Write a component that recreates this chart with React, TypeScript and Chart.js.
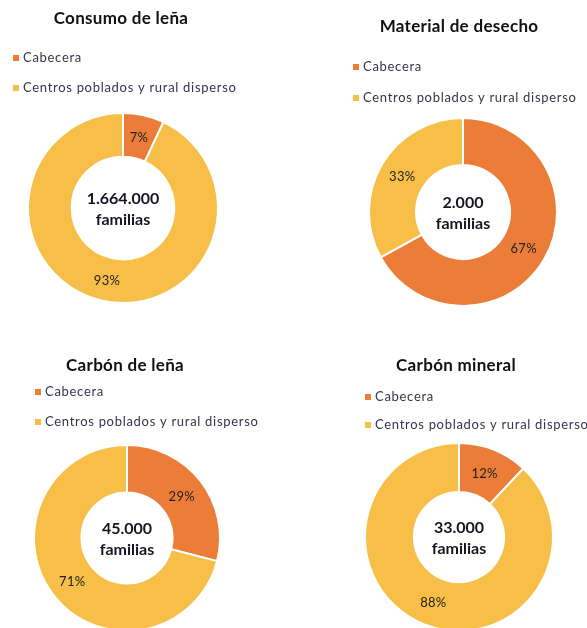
import React, { useEffect, useRef } from "react";
import { Chart, registerables } from "chart.js";

Chart.register(...registerables);

// ---- data ----
const categories = ["Cabecera", "Centros poblados y rural disperso"];
const chartTitles = ["Consumo de leña", "Material de desecho", "Carbón de leña", "Carbón mineral"];
const cabeceraPct = [7, 67, 29, 12];
const ruralPct = [93, 33, 71, 88];
const familyTotals = ["1.664.000", "2.000", "45.000", "33.000"];
const centerUnit = "familias";

// ---- styles / layout (page coordinates) ----
const COLORS = ["#EC7D39", "#F7BE48"];
const FONT = "Lato, 'Open Sans', sans-serif";

type Layout = {
  box: { left: number; top: number; width: number; height: number };
  cx: number; cy: number; R: number; cutout: string;
  titleX: number; titleY: number;
  legendX: number; legendY: number[];
};

const layouts: Layout[] = [
  { box: { left: 0, top: 0, width: 293, height: 320 }, cx: 123, cy: 208, R: 96, cutout: "54%", titleX: 121, titleY: 19, legendX: 13, legendY: [58, 88] },
  { box: { left: 293, top: 0, width: 294, height: 320 }, cx: 463, cy: 212, R: 95, cutout: "50%", titleX: 459, titleY: 27, legendX: 353, legendY: [67, 98] },
  { box: { left: 0, top: 320, width: 293, height: 330 }, cx: 127, cy: 538, R: 94, cutout: "49%", titleX: 125, titleY: 366, legendX: 35, legendY: [392, 422] },
  { box: { left: 293, top: 320, width: 294, height: 330 }, cx: 459, cy: 537, R: 95, cutout: "48%", titleX: 456, titleY: 366, legendX: 365, legendY: [397, 425] },
];

function setSpacing(ctx: any, v: string) {
  if ("letterSpacing" in ctx) ctx.letterSpacing = v;
}

function DonutPanel({ idx }: { idx: number }) {
  const ref = useRef<HTMLCanvasElement | null>(null);
  const L = layouts[idx];

  useEffect(() => {
    if (!ref.current) return;
    const { box } = L;
    const pad = {
      left: L.cx - L.R - box.left,
      top: L.cy - L.R - box.top,
      right: box.left + box.width - (L.cx + L.R),
      bottom: box.top + box.height - (L.cy + L.R),
    };

    const decor = {
      id: "decor" + idx,
      afterDraw(chart: any) {
        const ctx = chart.ctx as CanvasRenderingContext2D;
        ctx.save();
        // title
        ctx.fillStyle = "#111111";
        ctx.font = `bold 17px ${FONT}`;
        setSpacing(ctx, "0.3px");
        ctx.textAlign = "center";
        ctx.textBaseline = "middle";
        ctx.fillText(chartTitles[idx], L.titleX - box.left, L.titleY - box.top);
        // legend
        const bg = chart.data.datasets[0].backgroundColor as string[];
        setSpacing(ctx, "0.7px");
        (chart.data.labels as string[]).forEach((lab, i) => {
          const y = L.legendY[i] - box.top;
          const x = L.legendX - box.left;
          ctx.fillStyle = bg[i];
          ctx.fillRect(x, y - 3, 6, 6);
          ctx.fillStyle = "#35354a";
          ctx.font = `13px ${FONT}`;
          ctx.textAlign = "left";
          ctx.textBaseline = "middle";
          ctx.fillText(lab, x + 10, y);
        });
        // slice labels
        setSpacing(ctx, "0.3px");
        const meta = chart.getDatasetMeta(0);
        const vals = chart.data.datasets[0].data as number[];
        ctx.fillStyle = "#222222";
        ctx.font = `13px ${FONT}`;
        ctx.textAlign = "center";
        ctx.textBaseline = "middle";
        meta.data.forEach((arc: any, i: number) => {
          const p = arc.tooltipPosition();
          ctx.fillText(vals[i] + "%", p.x, p.y + 1);
        });
        // center text
        setSpacing(ctx, "0px");
        const a = meta.data[0];
        ctx.fillStyle = "#151522";
        ctx.font = `bold 16px ${FONT}`;
        ctx.fillText(familyTotals[idx], a.x, a.y - 9);
        ctx.fillText(centerUnit, a.x, a.y + 12);
        ctx.restore();
      },
    };

    const chart = new Chart(ref.current, {
      type: "doughnut",
      data: {
        labels: categories,
        datasets: [
          {
            data: [cabeceraPct[idx], ruralPct[idx]],
            backgroundColor: COLORS,
            borderColor: "#ffffff",
            borderWidth: 2,
          },
        ],
      },
      options: {
        responsive: false,
        animation: false,
        cutout: L.cutout,
        layout: { padding: pad },
        plugins: {
          legend: { display: false },
          title: { display: false },
          tooltip: { enabled: false },
        },
      },
      plugins: [decor],
    });
    return () => chart.destroy();
  }, [idx]);

  return (
    <canvas
      ref={ref}
      width={L.box.width}
      height={L.box.height}
      style={{
        position: "absolute",
        left: L.box.left,
        top: L.box.top,
        width: L.box.width,
        height: L.box.height,
      }}
    />
  );
}

export default function App() {
  return (
    <div
      style={{
        position: "absolute",
        left: 0,
        top: 0,
        width: 587,
        height: 628,
        overflow: "hidden",
        background: "#ffffff",
      }}
    >
      {layouts.map((_, i) => (
        <DonutPanel key={i} idx={i} />
      ))}
    </div>
  );
}
